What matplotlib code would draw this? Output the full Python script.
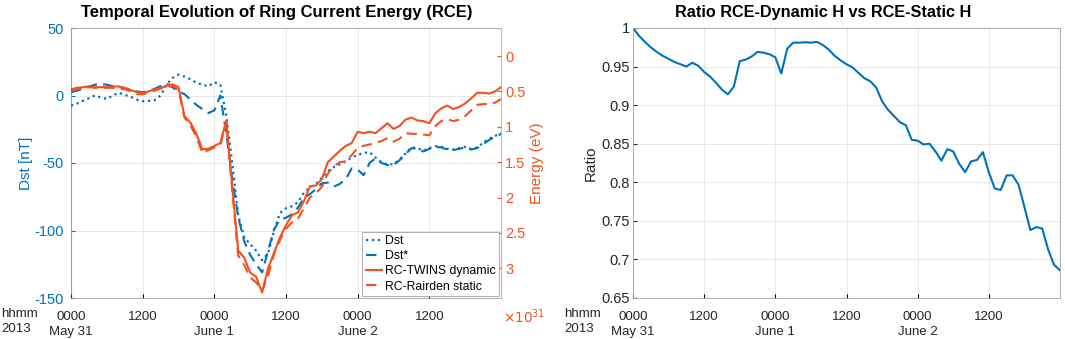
import matplotlib
matplotlib.use('Agg')
import matplotlib.pyplot as plt
import numpy as np

plt.rcParams['font.family'] = ['Liberation Sans', 'DejaVu Sans']
plt.rcParams['axes.unicode_minus'] = False

# hours since 2013-05-31 00:00 (hourly samples)
hours = list(range(73))

dst = [-7.5, -6, -4, -2, 0, -1.5, -2.5, 0, 2, 0.5, -1, -3, -4.2, -4, -3.5, 0,
       8, 13, 15.5, 14, 12, 9.5, 8, 6.8, 9.8, 8, -15, -50, -89, -105, -110, -115,
       -122, -117, -100, -87, -83.5, -82, -79, -72, -68, -65.5, -61, -56, -53, -51,
       -48.5, -46, -44, -42.5, -42, -46, -49.5, -51, -51, -47.5, -43, -38.5, -39,
       -41, -39, -37.5, -38, -39.5, -40, -39, -38, -39.5, -38.5, -35, -32, -30, -28]

dst_star = [2.4, 3.5, 5, 6.5, 8, 8.5, 8, 7, 6.5, 5.5, 4, 3, 2.5, 3, 5, 7,
            9, 6, 3, 1, -3, -7, -10, -13, -11, 0, -28, -62, -90, -108, -118, -125,
            -131, -115, -99, -92, -90.5, -88, -83, -76, -73, -69.5, -65, -64.5, -67.5, -65.5,
            -62, -54, -55, -59, -50, -46.5, -50, -51.5, -51.5, -48, -43.5, -39, -39.5,
            -41.5, -39.5, -38, -38.5, -40, -40.5, -39.5, -38.5, -40, -39, -36, -33, -30.5, -28.5]

# ring current energy, x 1e31 eV
rc_twins = [0.50, 0.47, 0.44, 0.43, 0.44, 0.44, 0.44, 0.43, 0.43, 0.45, 0.48, 0.51,
            0.52, 0.50, 0.47, 0.45, 0.42, 0.40, 0.44, 0.85, 0.94, 1.10, 1.32, 1.31,
            1.27, 1.23, 0.91, 1.85, 2.75, 2.85, 3.06, 3.12, 3.34, 3.00, 2.78, 2.56,
            2.39, 2.25, 2.21, 2.05, 1.84, 1.83, 1.74, 1.50, 1.42, 1.34, 1.27, 1.23,
            1.07, 1.09, 1.07, 1.09, 1.02, 0.95, 1.03, 0.99, 0.90, 0.87, 0.91, 0.92,
            0.95, 0.81, 0.74, 0.70, 0.75, 0.72, 0.67, 0.60, 0.52, 0.52, 0.53, 0.50, 0.44]

rc_rairden = [0.47, 0.45, 0.44, 0.44, 0.45, 0.45, 0.45, 0.45, 0.46, 0.47, 0.50, 0.54,
              0.54, 0.52, 0.49, 0.46, 0.44, 0.42, 0.48, 0.87, 0.98, 1.14, 1.37, 1.33,
              1.29, 1.26, 0.93, 1.90, 2.82, 2.95, 3.13, 3.20, 3.32, 3.10, 2.80, 2.60,
              2.44, 2.35, 2.30, 2.15, 2.00, 1.94, 1.85, 1.66, 1.56, 1.50, 1.49, 1.40,
              1.30, 1.27, 1.25, 1.23, 1.20, 1.16, 1.21, 1.17, 1.09, 1.10, 1.10, 1.11,
              1.12, 0.99, 0.92, 0.89, 0.92, 0.90, 0.85, 0.77, 0.69, 0.68, 0.68, 0.66, 0.61]

ratio = [1.000, 0.990, 0.982, 0.975, 0.969, 0.964, 0.960, 0.956, 0.953, 0.950, 0.955,
         0.951, 0.943, 0.937, 0.929, 0.920, 0.914, 0.924, 0.957, 0.959, 0.963, 0.969,
         0.968, 0.966, 0.962, 0.941, 0.973, 0.981, 0.981, 0.9815, 0.981, 0.982, 0.978,
         0.972, 0.964, 0.958, 0.953, 0.949, 0.942, 0.935, 0.931, 0.923, 0.905, 0.894,
         0.886, 0.878, 0.874, 0.855, 0.854, 0.849, 0.850, 0.840, 0.828, 0.843, 0.840,
         0.824, 0.813, 0.827, 0.829, 0.839, 0.813, 0.792, 0.790, 0.809, 0.809, 0.797,
         0.768, 0.738, 0.742, 0.740, 0.713, 0.693, 0.686]

xtick_pos = [0, 12, 24, 36, 48, 60]
xtick_labels = ['0000\nMay 31', '1200', '0000\nJune 1', '1200', '0000\nJune 2', '1200']

blue = '#0072BD'
orange = '#F4511E'
dark = '#262626'
fsx = 9.5   # x tick labels
fsy = 10.5  # y tick labels / axis labels
lsp = 1.38

fig = plt.figure(figsize=(10.65, 3.39), dpi=100)
W, H = 1065, 339


def px_axes(x0, x1, y0, y1):
    return fig.add_axes([x0 / W, 1 - y1 / H, (x1 - x0) / W, (y1 - y0) / H])


def style_x(ax):
    ax.set_xlim(0, 72)
    ax.set_xticks(xtick_pos)
    ax.set_xticklabels(xtick_labels, fontsize=fsx, color=dark, linespacing=lsp)
    ax.tick_params(axis='x', direction='in', length=3, pad=9)
    ax.grid(True, color='#e4e4e4', linewidth=0.6)
    ax.set_axisbelow(True)


# ---- left panel: Dst and ring current energy
ax = px_axes(71, 501, 28, 298)
l1, = ax.plot(hours, dst, ':', color=blue, linewidth=1.6, label='Dst')
l2, = ax.plot(hours, dst_star, '--', color=blue, linewidth=1.5, dashes=(5, 3), label='Dst*')
ax.set_ylim(-150, 50)
ax.set_yticks([-150, -100, -50, 0, 50])
style_x(ax)
ax.tick_params(axis='y', direction='in', length=3, pad=5, colors=blue, labelsize=fsy)
ax.set_ylabel('Dst [nT]', color=blue, fontsize=fsy + 0.5, labelpad=1)
ax.set_title('Temporal Evolution of Ring Current Energy (RCE)', fontsize=12,
             fontweight='bold', pad=8, x=0.479)

ax2 = ax.twinx()
l3, = ax2.plot(hours, rc_twins, '-', color=orange, linewidth=1.5, label='RC-TWINS dynamic')
l4, = ax2.plot(hours, rc_rairden, '--', color=orange, linewidth=1.5, dashes=(5, 3),
               label='RC-Rairden static')
ax2.set_ylim(3.42, -0.396)
ax2.set_yticks([0, 0.5, 1, 1.5, 2, 2.5, 3])
ax2.set_yticklabels(['0', '0.5', '1', '1.5', '2', '2.5', '3'])
ax2.tick_params(direction='in', length=3, pad=3, colors=orange, labelsize=fsy)
ax2.set_ylabel('Energy (eV)', color=orange, fontsize=fsy + 0.5, labelpad=3)
ax2.text(1.005, -0.035, r'$\times 10^{31}$', transform=ax2.transAxes, color=orange,
         fontsize=9.8, ha='left', va='top')

for s in ['top', 'bottom']:
    ax2.spines[s].set_color('#a0a0a0')
    ax2.spines[s].set_linewidth(0.6)
ax2.spines['left'].set_color(blue)
ax2.spines['right'].set_color(orange)
ax2.spines['left'].set_alpha(0.5)
ax2.spines['right'].set_alpha(0.5)
for s in ax.spines.values():
    s.set_visible(False)

leg = ax2.legend(handles=[l1, l2, l3, l4], loc='lower right', fontsize=8.8,
                 handlelength=1.3, handletextpad=0.25, labelspacing=0.25,
                 borderpad=0.3, borderaxespad=0.15, fancybox=False, framealpha=1)
leg.get_frame().set_edgecolor('#a0a0a0')
leg.get_frame().set_linewidth(0.6)

fig.text(1 / W, 1 - 308 / H, 'hhmm\n2013', fontsize=fsx, color=dark, ha='left',
         va='top', linespacing=lsp)

# ---- right panel: ratio
axr = px_axes(633, 1060, 28, 298)
axr.plot(hours, ratio, '-', color=blue, linewidth=1.5)
axr.set_ylim(0.65, 1.0)
axr.set_yticks(np.arange(0.65, 1.001, 0.05))
axr.set_yticklabels(['0.65', '0.7', '0.75', '0.8', '0.85', '0.9', '0.95', '1'])
style_x(axr)
axr.tick_params(axis='y', direction='in', length=3, pad=2, colors=dark, labelsize=fsy)
axr.set_ylabel('Ratio', fontsize=fsy + 0.5, color=dark, labelpad=3)
axr.set_title('Ratio RCE-Dynamic H vs RCE-Static H', fontsize=11.7, fontweight='bold',
              pad=8, x=0.445)
for s in axr.spines.values():
    s.set_color('#a0a0a0')
    s.set_linewidth(0.6)

fig.text(564 / W, 1 - 308 / H, 'hhmm\n2013', fontsize=fsx, color=dark, ha='left',
         va='top', linespacing=lsp)

fig.savefig('out.png', dpi=100)
